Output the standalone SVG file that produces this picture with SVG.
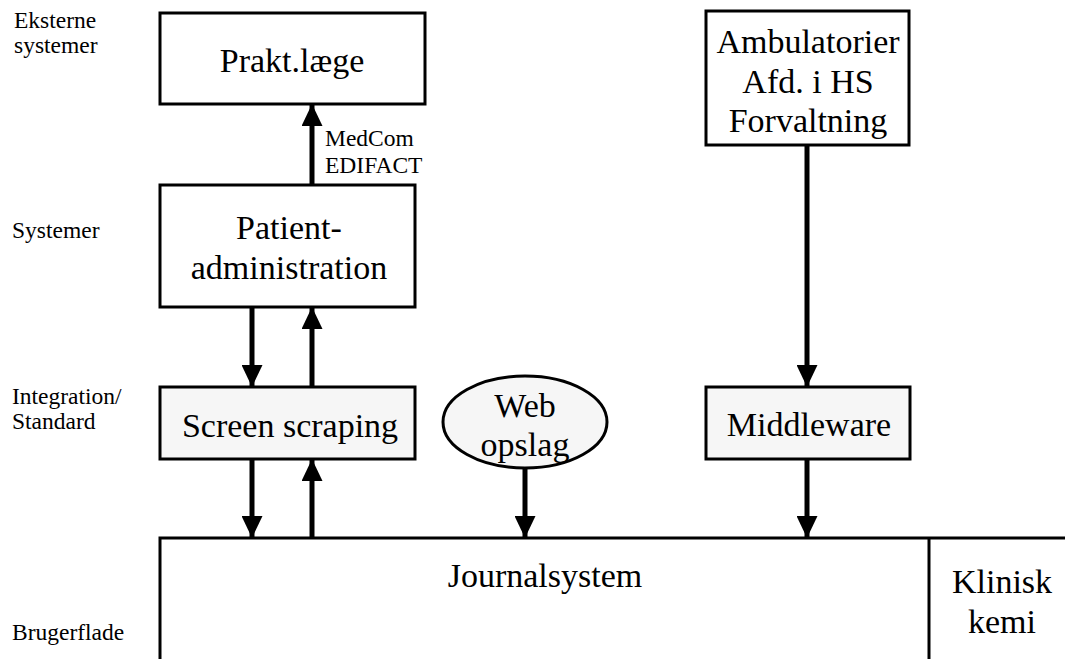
<svg xmlns="http://www.w3.org/2000/svg" width="1065" height="659" viewBox="0 0 1065 659">
  <style>
    .box { fill: #ffffff; stroke: #000000; stroke-width: 3; }
    .std { fill: #f6f6f6; stroke: #000000; stroke-width: 3; }
    .big { font-family: "Liberation Serif", "Times New Roman", serif; font-size: 34px; fill: #000; text-anchor: middle; }
    .lane { font-family: "Liberation Serif", "Times New Roman", serif; font-size: 23.5px; fill: #000; }
    .small { font-family: "Liberation Serif", "Times New Roman", serif; font-size: 23.5px; fill: #000; }
    .conn { stroke: #000; stroke-width: 5; fill: none; marker-end: url(#head); }
    .edge { stroke: #000; stroke-width: 3; fill: none; }
  </style>
  <defs>
    <marker id="head" viewBox="0 0 22 21" refX="21" refY="10.5" markerWidth="22" markerHeight="21" markerUnits="userSpaceOnUse" orient="auto">
      <path d="M0,0 L22,10.5 L0,21 Z" fill="#000"/>
    </marker>
  </defs>

  <!-- layer labels -->
  <g id="lanes">
    <text class="lane" x="14" y="28">Eksterne</text>
    <text class="lane" x="14" y="53">systemer</text>
    <text class="lane" x="12" y="238">Systemer</text>
    <text class="lane" x="12" y="404">Integration/</text>
    <text class="lane" x="12" y="429">Standard</text>
    <text class="lane" x="12" y="640">Brugerflade</text>
  </g>

  <g id="praktlaege">
    <rect class="box" x="160" y="13" width="265" height="91"/>
    <text class="big" x="292" y="72">Prakt.læge</text>
  </g>

  <g id="ambulatorier">
    <rect class="box" x="706" y="11" width="203" height="134"/>
    <text class="big" x="808" y="53">Ambulatorier</text>
    <text class="big" x="808" y="93">Afd. i HS</text>
    <text class="big" x="808" y="132">Forvaltning</text>
  </g>

  <g id="patientadm">
    <rect class="box" x="160" y="185" width="255" height="122"/>
    <text class="big" x="289" y="239">Patient-</text>
    <text class="big" x="289" y="279">administration</text>
  </g>

  <g id="screenscraping">
    <rect class="std" x="160" y="387" width="255" height="72"/>
    <text class="big" x="290" y="437">Screen scraping</text>
  </g>

  <g id="weblookup">
    <ellipse class="std" cx="525" cy="422" rx="82" ry="46"/>
    <text class="big" x="525" y="417">Web</text>
    <text class="big" x="525" y="456">opslag</text>
  </g>

  <g id="middleware">
    <rect class="std" x="706" y="387" width="204" height="72"/>
    <text class="big" x="809" y="436">Middleware</text>
  </g>

  <g id="journalsystem">
    <path class="edge" d="M160,659 L160,538 L1065,538"/>
    <text class="big" x="545" y="587">Journalsystem</text>
  </g>

  <g id="kliniskkemi">
    <path class="edge" d="M929,538 L929,659"/>
    <text class="big" x="1002" y="593">Klinisk</text>
    <text class="big" x="1002" y="633">kemi</text>
  </g>

  <g id="connectors">
    <line class="conn" x1="312" y1="185" x2="312" y2="105"/>
    <text class="small" x="325" y="146">MedCom</text>
    <text class="small" x="325" y="173">EDIFACT</text>
    <line class="conn" x1="252" y1="307" x2="252" y2="386"/>
    <line class="conn" x1="312" y1="387" x2="312" y2="308"/>
    <line class="conn" x1="252" y1="459" x2="252" y2="537"/>
    <line class="conn" x1="312" y1="537" x2="312" y2="460"/>
    <line class="conn" x1="525" y1="468" x2="525" y2="537"/>
    <line class="conn" x1="807" y1="145" x2="807" y2="386"/>
    <line class="conn" x1="807" y1="459" x2="807" y2="537"/>
  </g>
</svg>
